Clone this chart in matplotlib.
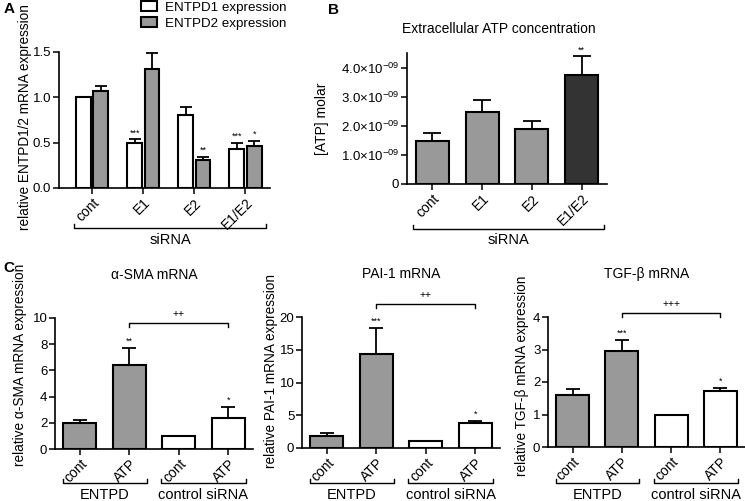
import numpy as np
import matplotlib
matplotlib.use("Agg")
import matplotlib.pyplot as plt

plt.rcParams['font.family'] = ['Liberation Sans', 'DejaVu Sans']
plt.rcParams['mathtext.default'] = 'regular'

# ---------------- data ----------------
groups_A = ['cont', 'E1', 'E2', 'E1/E2']
entpd1 = [1.00, 0.50, 0.81, 0.43]
entpd1_err = [0.0, 0.035, 0.08, 0.07]
entpd2 = [1.07, 1.31, 0.31, 0.46]
entpd2_err = [0.06, 0.18, 0.03, 0.06]
sig_A1 = ['', '***', '', '***']
sig_A2 = ['', '', '**', '*']
legend_A = ['ENTPD1 expression', 'ENTPD2 expression']

groups_B = ['cont', 'E1', 'E2', 'E1/E2']
atp_conc = [1.48e-9, 2.49e-9, 1.88e-9, 3.76e-9]
atp_err = [0.27e-9, 0.38e-9, 0.27e-9, 0.62e-9]
sig_B = ['', '', '', '**']
yticks_B = [0, 1e-9, 2e-9, 3e-9, 4e-9]
yticklabels_B = ['0', '1.0×10$^{-09}$', '2.0×10$^{-09}$', '3.0×10$^{-09}$', '4.0×10$^{-09}$']

c_labels = ['cont', 'ATP', 'cont', 'ATP']
c_groups = ['ENTPD', 'control siRNA']
sma = [1.95, 6.45, 1.0, 2.38]
sma_err = [0.25, 1.25, 0.0, 0.85]
sig_sma = ['', '**', '', '*']
pai1 = [1.88, 14.3, 1.0, 3.75]
pai1_err = [0.35, 4.0, 0.0, 0.4]
sig_pai1 = ['', '***', '', '*']
tgfb = [1.6, 2.96, 1.0, 1.71]
tgfb_err = [0.17, 0.33, 0.0, 0.12]
sig_tgfb = ['', '***', '', '*']

GREY = '#999999'
DARK = '#333333'
W, H = 745, 501
fig = plt.figure(figsize=(W / 100, H / 100), dpi=100)


def px_axes(l, t, r, b):
    return fig.add_axes([l / W, 1 - b / H, (r - l) / W, (b - t) / H])


def style(ax):
    for s in ['top', 'right']:
        ax.spines[s].set_visible(False)
    for s in ['left', 'bottom']:
        ax.spines[s].set_linewidth(1.2)
    ax.tick_params(direction='out', length=4, width=1.1, labelsize=9.5, pad=1.5)


def bars(ax, x, vals, errs, colors, width, cap, sigs):
    ax.bar(x, vals, width=width, color=colors, edgecolor='black', linewidth=1.5, zorder=2)
    ax.errorbar(x, vals, yerr=[np.zeros(len(vals)), errs], fmt='none', ecolor='black',
                elinewidth=1.3, capsize=cap, capthick=1.3, zorder=3)
    for xi, v, e, s in zip(x, vals, errs, sigs):
        if s:
            ax.annotate(s, (xi, v + e), xytext=(0, 1.5), textcoords='offset points',
                        ha='center', va='bottom', fontsize=6.5, annotation_clip=False)


def under_bracket(ax, x0, x1, y, label, ty, tick=0.03):
    tr = ax.get_xaxis_transform()
    ax.plot([x0, x0, x1, x1], [y + tick, y, y, y + tick], color='black', lw=1.0,
            transform=tr, clip_on=False)
    ax.text((x0 + x1) / 2, ty, label, transform=tr, ha='center', va='center', fontsize=10.5)


def rot_labels(ax, labels):
    ax.set_xticks(range(len(labels)))
    ax.set_xticklabels(labels, rotation=45, ha='right', rotation_mode='anchor', fontsize=10)


# ---------------- Panel A ----------------
axA = px_axes(59, 52, 270, 188)
style(axA)
xa = np.arange(len(groups_A))
off, wA = 0.17, 0.29
bars(axA, xa - off, entpd1, entpd1_err, 'white', wA, 4.3, sig_A1)
bars(axA, xa + off, entpd2, entpd2_err, GREY, wA, 4.3, sig_A2)
axA.set_xlim(-0.65, 3.48)
axA.set_ylim(0, 1.5)
axA.set_yticks([0, 0.5, 1.0, 1.5])
axA.set_yticklabels(['0.0', '0.5', '1.0', '1.5'])
rot_labels(axA, groups_A)
axA.set_ylabel('relative ENTPD1/2 mRNA expression', fontsize=9.8)
axA.yaxis.set_label_coords(-0.127, 0.52)
under_bracket(axA, -0.36, 3.41, -0.294, 'siRNA', -0.385)
h1 = plt.Rectangle((0, 0), 1, 1, facecolor='white', edgecolor='black', linewidth=1.5)
h2 = plt.Rectangle((0, 0), 1, 1, facecolor=GREY, edgecolor='black', linewidth=1.5)
fig.legend([h1, h2], legend_A, loc='upper left', bbox_to_anchor=(141 / W, 1 - 1 / H),
           frameon=False, fontsize=9.6, handlelength=1.2, handleheight=0.75,
           handletextpad=0.6, labelspacing=0.28, borderpad=0, borderaxespad=0)
fig.text(4 / W, 1 - 9 / H, 'A', fontsize=11, fontweight='bold', va='center', ha='left')

# ---------------- Panel B ----------------
axB = px_axes(407, 53, 607, 184)
style(axB)
xb = np.arange(len(groups_B))
bars(axB, xb, atp_conc, atp_err, [GREY, GREY, GREY, DARK], 0.66, 6.5, sig_B)
axB.set_xlim(-0.51, 3.51)
axB.set_ylim(0, 4.5e-9)
axB.set_yticks(yticks_B)
axB.set_yticklabels(yticklabels_B, fontsize=9.5)
rot_labels(axB, groups_B)
axB.set_ylabel('[ATP] molar', fontsize=10)
axB.yaxis.set_label_coords(-0.39, 0.5)
axB.text(0.46, 1.18, 'Extracellular ATP concentration', transform=axB.transAxes,
         ha='center', va='center', fontsize=10)
under_bracket(axB, -0.39, 3.45, -0.344, 'siRNA', -0.43)
fig.text(328 / W, 1 - 10 / H, 'B', fontsize=11, fontweight='bold', va='center', ha='left')

# ---------------- Panel C ----------------
c_specs = [
    ((55, 318, 253, 449), sma, sma_err, sig_sma, 10, [0, 2, 4, 6, 8, 10],
     'α-SMA mRNA', 'relative α-SMA mRNA expression', -0.141, 0.645, '++', 9.62, 9.31),
    ((302, 317, 500, 448), pai1, pai1_err, sig_pai1, 20, [0, 5, 10, 15, 20],
     'PAI-1 mRNA', 'relative PAI-1 mRNA expression', -0.121, 0.59, '++', 22.0, 21.4),
    ((548, 317, 745, 447), tgfb, tgfb_err, sig_tgfb, 4, [0, 1, 2, 3, 4],
     'TGF-β mRNA', 'relative TGF-β mRNA expression', -0.096, 0.55, '+++', 4.12, 4.0),
]
xc = np.arange(len(c_labels))
for (box, vals, errs, sigs, ymax, yt, title, ylab, lx, ly, plus, by, bt) in c_specs:
    ax = px_axes(*box)
    style(ax)
    bars(ax, xc, vals, errs, [GREY, GREY, 'white', 'white'], 0.67, 4.7, sigs)
    ax.set_xlim(-0.5, 3.5)
    ax.set_ylim(0, ymax)
    ax.set_yticks(yt)
    rot_labels(ax, c_labels)
    ax.set_ylabel(ylab, fontsize=9.8)
    ax.yaxis.set_label_coords(lx, ly)
    ax.text(0.5, 1.33, title, transform=ax.transAxes, ha='center', va='center', fontsize=10)
    ax.plot([1, 1, 3, 3], [bt, by, by, bt], color='black', lw=1.0, clip_on=False)
    ax.annotate(plus, (2, by), xytext=(0, 3), textcoords='offset points',
                ha='center', va='bottom', fontsize=7.5, annotation_clip=False)
    yb = (box[3] - 483) / (box[3] - box[1])
    yt_ = (box[3] - 495) / (box[3] - box[1])
    under_bracket(ax, -0.33, 1.35, yb, c_groups[0], yt_)
    under_bracket(ax, 1.65, 3.35, yb, c_groups[1], yt_)

fig.text(3 / W, 1 - 268 / H, 'C', fontsize=11, fontweight='bold', va='center', ha='left')

fig.savefig('out.png', dpi=100)
